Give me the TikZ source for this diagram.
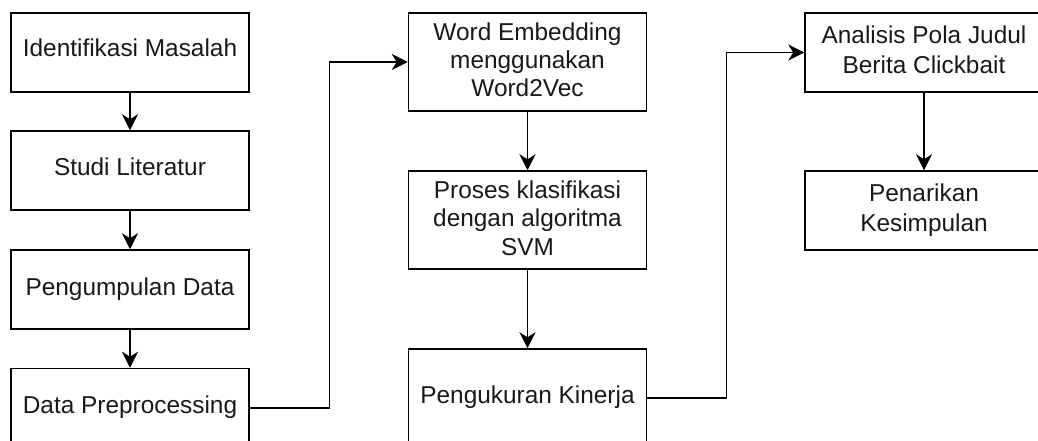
\documentclass[tikz,border=0pt]{standalone}
\usepackage{fontspec}
\setmainfont{Liberation Sans}
\usetikzlibrary{arrows.meta}
\newcommand\bt[3]{\raisebox{#1pt}[0pt][0pt]{\fontsize{24.4}{#2}\selectfont\begin{tabular}[b]{@{}c@{}}#3\end{tabular}}}
\tikzset{
  stepbox/.style={draw=black, line width=1.5pt, rectangle, inner sep=0pt, minimum width=238pt, text=black!90},
  shortbox/.style={stepbox, minimum height=79pt},
  tallbox/.style={stepbox, minimum height=98pt},
  arr/.style={draw=black, line width=1.5pt, -{Stealth[length=16pt,width=16pt,inset=5pt]}},
}
\begin{document}
\begin{tikzpicture}[x=1pt,y=-1pt]
\useasboundingbox (0,0) rectangle (1038,441);
\clip (0,0) rectangle (1038,441);
\node[shortbox] (b1) at (130,52.5) {\bt{-4.5}{28.5}{Identifikasi Masalah}};
\node[shortbox] (b2) at (130,170.5) {\bt{-5.5}{28.5}{Studi Literatur}};
\node[shortbox] (b3) at (130,289.5) {\bt{-5.5}{28.5}{Pengumpulan Data}};
\node[shortbox] (b4) at (130,408) {\bt{-5.5}{28.5}{Data Preprocessing}};
\node[tallbox] (b5) at (527.5,62) {\bt{-35}{28.4}{Word Embedding\\menggunakan\\Word2Vec}};
\node[tallbox] (b6) at (527.5,220) {\bt{-35}{28.4}{Proses klasifikasi\\dengan algoritma\\SVM}};
\node[tallbox] (b7) at (527.5,398) {\bt{-5}{28.4}{Pengukuran Kinerja}};
\node[shortbox] (b8) at (924,52.5) {\bt{-20.8}{30}{Analisis Pola Judul\\Berita Clickbait}};
\node[shortbox] (b9) at (924,210.5) {\bt{-21.2}{30}{Penarikan\\Kesimpulan}};
\draw[arr] (b1.south) -- (b2.north);
\draw[arr] (b2.south) -- (b3.north);
\draw[arr] (b3.south) -- (b4.north);
\draw[arr] (b4.east) -- ++(79.5,0) |- (b5.west);
\draw[arr] (b5.south) -- (b6.north);
\draw[arr] (b6.south) -- (b7.north);
\draw[arr] (b7.east) -- ++(79,0) |- (b8.west);
\draw[arr] (b8.south) -- (b9.north);
\end{tikzpicture}
\end{document}
